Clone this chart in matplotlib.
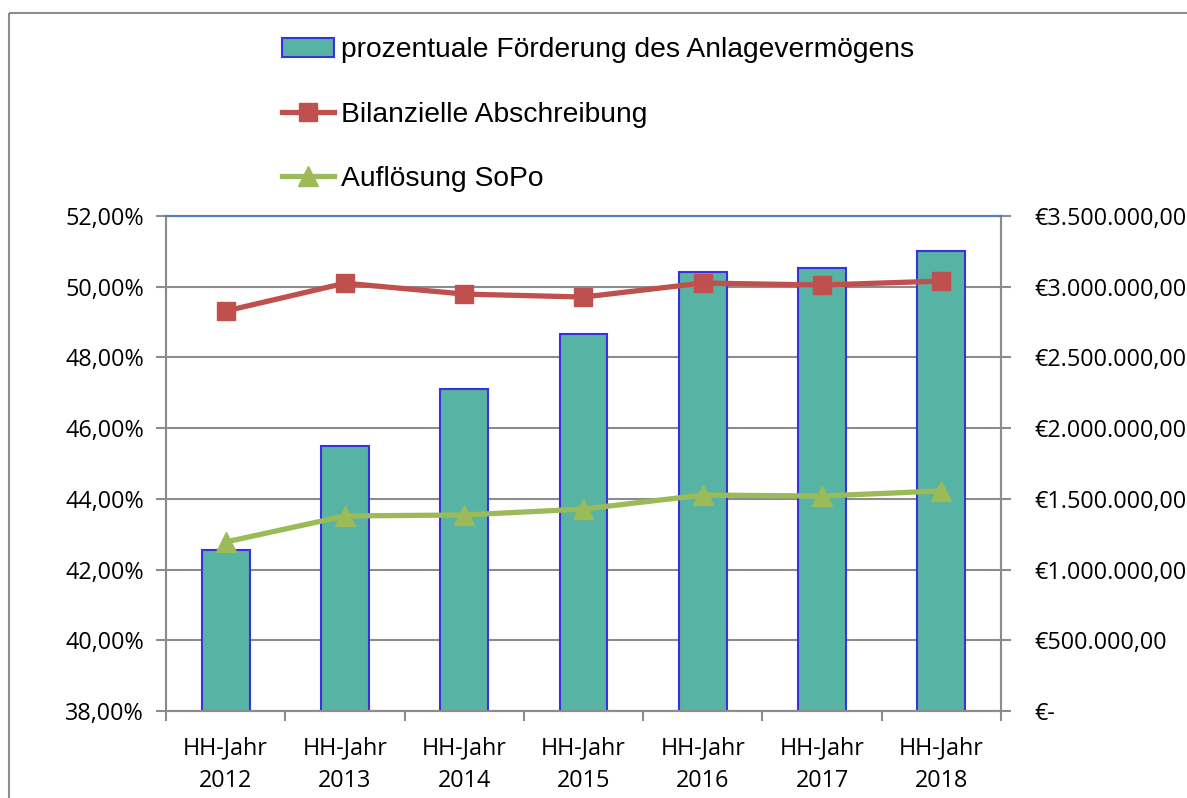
import matplotlib
matplotlib.use("Agg")
import matplotlib.pyplot as plt
from matplotlib.ticker import FuncFormatter, FixedLocator
from matplotlib.patches import Rectangle, Patch
from matplotlib.lines import Line2D
import numpy as np

categories = ["HH-Jahr\n2012", "HH-Jahr\n2013", "HH-Jahr\n2014", "HH-Jahr\n2015",
              "HH-Jahr\n2016", "HH-Jahr\n2017", "HH-Jahr\n2018"]
foerderung_pct = [42.55, 45.50, 47.12, 48.67, 50.43, 50.54, 51.00]
abschreibung = [2828000, 3025000, 2948000, 2927000, 3026000, 3012000, 3040000]
aufloesung = [1195000, 1379000, 1386000, 1428000, 1527000, 1520000, 1556000]

label_bar = "prozentuale Förderung des Anlagevermögens"
label_red = "Bilanzielle Abschreibung"
label_green = "Auflösung SoPo"

W, H = 1187, 798
fig = plt.figure(figsize=(W / 100, H / 100), dpi=100)

# outer chart border
fig.patches.append(Rectangle((9 / W, 1 - 13 / H), 1.2, -1.2, transform=fig.transFigure,
                             fill=False, edgecolor="#8C8C8C", linewidth=1.5))

left, right, top, bottom = 166, 1001, 216, 711
ax = fig.add_axes([left / W, 1 - bottom / H, (right - left) / W, (bottom - top) / H])
ax2 = ax.twinx()

x = np.arange(len(categories))
bar_color = "#57B3A3"
bar_edge = "#3B2FE0"
red = "#C0504D"
green = "#9BBB59"
grid_c = "#8C8C8C"
tick_font = "Open Sans"
tick_size = 16.8

ax.bar(x, foerderung_pct, width=0.4, color=bar_color, edgecolor=bar_edge, linewidth=1.5, zorder=2)
ax.set_xlim(-0.5, len(categories) - 0.5)
ax.set_ylim(38, 52)
ax.set_yticks(np.arange(38, 52.01, 2))
ax.yaxis.set_major_formatter(FuncFormatter(lambda v, p: f"{v:.2f}%".replace(".", ",")))
ax.set_axisbelow(True)
ax.grid(axis="y", color=grid_c, linewidth=1.5, zorder=0)

ax.set_xticks(x)
ax.set_xticklabels(categories, fontsize=tick_size, family=tick_font, linespacing=1.5)
ax.tick_params(axis="x", which="major", length=0, pad=18)
ax.xaxis.set_minor_locator(FixedLocator(np.arange(-0.5, len(categories), 1.0)))
ax.tick_params(axis="x", which="minor", length=7, width=1.5, color=grid_c)
ax.tick_params(axis="y", length=7, width=1.5, color=grid_c, labelsize=tick_size, pad=9)
for lab in ax.get_yticklabels():
    lab.set_family(tick_font)

ax2.plot(x, abschreibung, color=red, linewidth=3.8, marker="s", markersize=13, zorder=3)
ax2.plot(x, aufloesung, color=green, linewidth=3.8, marker="^", markersize=14, zorder=3)
ax2.set_ylim(0, 3500000)
ax2.set_yticks(np.arange(0, 3500001, 500000))


def euro(v, p):
    if v == 0:
        return "€-"
    s = f"{v:,.2f}"
    s = s.replace(",", "X").replace(".", ",").replace("X", ".")
    return "€" + s


ax2.yaxis.set_major_formatter(FuncFormatter(euro))
ax2.tick_params(axis="y", length=7, width=1.5, color=grid_c, labelsize=tick_size, pad=17)
for lab in ax2.get_yticklabels():
    lab.set_family(tick_font)

for a in (ax, ax2):
    a.spines["left"].set_color(grid_c)
    a.spines["right"].set_color(grid_c)
    a.spines["bottom"].set_color(grid_c)
    a.spines["top"].set_color("#4F81BD")
    for s in a.spines.values():
        s.set_linewidth(1.5)

handles = [
    Patch(facecolor=bar_color, edgecolor=bar_edge, linewidth=1.5),
    Line2D([], [], color=red, linewidth=3.8, marker="s", markersize=13),
    Line2D([], [], color=green, linewidth=3.8, marker="^", markersize=14),
]
leg = fig.legend(handles, [label_bar, label_red, label_green], loc="upper left",
                 bbox_to_anchor=(271 / W, 1 - 26 / H), frameon=False,
                 prop={"family": "Liberation Sans", "size": 20.3},
                 handlelength=1.85, handletextpad=0.25, labelspacing=1.36, borderaxespad=0)

fig.savefig("out.png", dpi=100)
